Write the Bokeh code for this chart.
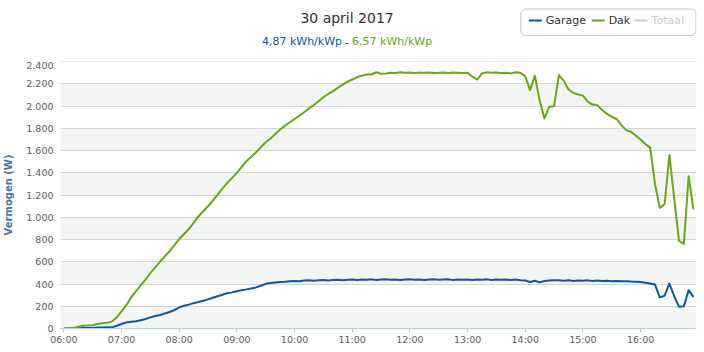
import pandas as pd
from bokeh.plotting import figure
from bokeh.layouts import column
from bokeh.models import (FixedTicker, DatetimeTickFormatter, Range1d, BoxAnnotation, Quad)
from bokeh.core.properties import value
from bokeh.embed import file_html
from bokeh.resources import INLINE

# ---------------- data (5-minute values, 06:00 .. 16:55) ----------------
day = "2017-04-30"
start_time = "06:00"

dak = [
    0, 2, 5, 15, 25, 27, 30, 40, 47, 52, 62, 100,
    155, 210, 280, 335, 390, 440, 498, 550, 600, 650, 695, 750,
    805, 850, 895, 950, 1008, 1055, 1100, 1150, 1205, 1260, 1310, 1355,
    1400, 1455, 1505, 1545, 1585, 1630, 1675, 1710, 1750, 1790, 1825, 1855,
    1885, 1915, 1945, 1980, 2010, 2045, 2080, 2110, 2135, 2165, 2195, 2220,
    2240, 2260, 2275, 2285, 2285, 2305, 2292, 2295, 2300, 2298, 2305, 2300,
    2303, 2298, 2302, 2300, 2304, 2298, 2300, 2303, 2298, 2302, 2300, 2298,
    2300, 2265, 2240, 2295, 2305, 2300, 2303, 2298, 2300, 2295, 2305, 2300,
    2270, 2145, 2275, 2050, 1890, 1995, 2000, 2280, 2230, 2150, 2120, 2105,
    2095, 2040, 2015, 2010, 1965, 1930, 1905, 1885, 1830, 1785, 1770, 1735,
    1700, 1660, 1625, 1300, 1085, 1120, 1560, 1170, 790, 760, 1370, 1070,
]

garage = [
    0, 0, 2, 3, 5, 5, 5, 8, 10, 12, 10, 25,
    40, 55, 60, 65, 75, 85, 100, 112, 122, 135, 148, 165,
    190, 205, 215, 228, 238, 250, 262, 277, 290, 303, 318, 325,
    335, 345, 352, 360, 370, 385, 402, 410, 414, 418, 420, 425,
    428, 425, 432, 435, 430, 435, 437, 432, 436, 438, 434, 438,
    440, 436, 440, 438, 442, 437, 440, 443, 438, 441, 437, 440,
    442, 438, 441, 437, 440, 443, 438, 440, 442, 437, 441, 438,
    440, 436, 441, 438, 442, 437, 440, 438, 441, 436, 440, 435,
    432, 418, 430, 415, 428, 432, 435, 433, 430, 434, 428, 432,
    430, 433, 428, 431, 427, 429, 425, 428, 424, 426, 422, 420,
    418, 412, 405, 395, 280, 295, 405, 290, 195, 200, 345, 285,
]

x_tick_hours = ["06:00", "07:00", "08:00", "09:00", "10:00", "11:00",
                "12:00", "13:00", "14:00", "15:00", "16:00"]
y_ticks = [0, 200, 400, 600, 800, 1000, 1200, 1400, 1600, 1800, 2000, 2200, 2400]
y_tick_labels = ["0", "200", "400", "600", "800", "1.000", "1.200", "1.400",
                 "1.600", "1.800", "2.000", "2.200", "2.400"]

series_names = ["Garage", "Dak", "Totaal"]
series_active = [True, True, False]
title_text = "30 april 2017"
sub_garage = "4,87 kWh/kWp"
sub_dak = "6,57 kWh/kWp"
y_title = "Vermogen (W)"

# ---------------- styling ----------------
BLUE = "#0f589f"
GREEN = "#6aa817"
GREY = "#cccccc"
FONT = "DejaVu Sans"
HEAD_H = 61
W = 704
LEFT, RIGHT = 59, 8

# ---------------- header (title, subtitle, legend) ----------------
# header frame is aligned with the main frame; x values are page pixels,
# y values are pixels measured up from the header's bottom edge
head = figure(width=W, height=HEAD_H, x_range=Range1d(LEFT, W - RIGHT),
              y_range=Range1d(0, HEAD_H),
              output_backend="svg", toolbar_location=None,
              x_axis_location=None, y_axis_location=None,
              min_border_left=LEFT, min_border_right=RIGHT,
              min_border_top=0, min_border_bottom=0)
head.outline_line_color = None
head.xgrid.visible = False
head.ygrid.visible = False
head.background_fill_color = "white"
head.border_fill_color = "white"

def ty(y_page):
    return HEAD_H - y_page

head.text(x=[346], y=[ty(17)], text=[title_text], text_align="center",
          text_baseline="middle", text_font=value(FONT), text_font_size="14px",
          text_color="#333333")
head.text(x=[341], y=[ty(41)], text=[sub_garage], text_align="right",
          text_baseline="middle", text_font=value(FONT), text_font_size="11px",
          text_color=BLUE)
head.text(x=[346], y=[ty(41)], text=["-"], text_align="center",
          text_baseline="middle", text_font=value(FONT), text_font_size="11px",
          text_color="#555555")
head.text(x=[351], y=[ty(41)], text=[sub_dak], text_align="left",
          text_baseline="middle", text_font=value(FONT), text_font_size="11px",
          text_color=GREEN)

# legend box + items
box = head.quad(left=[520], right=[695.5], top=[ty(8.5)], bottom=[ty(35)],
                fill_color="white", line_color="#c8c8c8", line_width=1)
if "border_radius" in Quad.properties():
    box.glyph.border_radius = 5

leg_colors = [BLUE if series_active[0] else GREY,
              GREEN if series_active[1] else GREY,
              GREY]
leg_glyph_x = [528, 591, 634]
leg_y = ty(20)
head.segment(x0=leg_glyph_x, y0=[leg_y] * 3, x1=[x + 13 for x in leg_glyph_x],
             y1=[leg_y] * 3, line_color=leg_colors, line_width=2)
head.text(x=[x + 17 for x in leg_glyph_x], y=[leg_y] * 3, text=series_names,
          text_align="left", text_baseline="middle", text_font=value(FONT),
          text_font_size="11px",
          text_color=["#333333" if a else GREY for a in series_active])

# ---------------- main chart ----------------
times = pd.date_range(f"{day} {start_time}", periods=len(dak), freq="5min")
x_ticks_ms = [pd.Timestamp(f"{day} {h}").value // 10**6 for h in x_tick_hours]

p = figure(width=W, height=352 - HEAD_H, x_axis_type="datetime",
           output_backend="svg", toolbar_location=None,
           x_range=Range1d(pd.Timestamp(f"{day} 05:56:30"), pd.Timestamp(f"{day} 16:58:10")),
           y_range=Range1d(0, 2402),
           min_border_left=LEFT, min_border_right=RIGHT, min_border_top=0,
           min_border_bottom=24)
p.outline_line_color = None
p.background_fill_color = "white"
p.border_fill_color = "white"

for i in range(0, len(y_ticks) - 1, 2):
    p.add_layout(BoxAnnotation(bottom=y_ticks[i], top=y_ticks[i + 1],
                               fill_color="#f2f5f4", fill_alpha=1.0,
                               line_color=None, level="image"))

p.xgrid.visible = False
p.ygrid.ticker = FixedTicker(ticks=y_ticks)
p.ygrid.grid_line_color = "#d6d6d6"
p.ygrid.grid_line_width = 1

xa = p.xaxis[0]
xa.ticker = FixedTicker(ticks=x_ticks_ms)
xa.formatter = DatetimeTickFormatter(hours="%H:%M", hourmin="%H:%M", minutes="%H:%M",
                                     days="%H:%M", minsec="%H:%M", seconds="%H:%M")
xa.axis_line_color = "#c0d0e0"
xa.major_tick_line_color = "#c0d0e0"
xa.major_tick_out = 4
xa.major_tick_in = 0
xa.minor_tick_line_color = None
xa.minor_tick_out = 0
xa.minor_tick_in = 0
xa.major_label_standoff = 1
xa.major_label_text_font = FONT
xa.major_label_text_font_size = "9.5px"
xa.major_label_text_color = "#606060"

ya = p.yaxis[0]
ya.ticker = FixedTicker(ticks=y_ticks)
ya.major_label_overrides = {t: l for t, l in zip(y_ticks, y_tick_labels)}
ya.axis_line_color = None
ya.major_tick_line_color = None
ya.minor_tick_line_color = None
ya.major_tick_out = 0
ya.major_tick_in = 0
ya.minor_tick_out = 0
ya.minor_tick_in = 0
ya.major_label_standoff = 7
ya.major_label_text_font = FONT
ya.major_label_text_font_size = "9.5px"
ya.major_label_text_color = "#606060"
ya.axis_label = y_title
ya.axis_label_standoff = 9
ya.axis_label_text_font = FONT
ya.axis_label_text_font_size = "10px"
ya.axis_label_text_font_style = "bold"
ya.axis_label_text_color = "#4d759e"

p.line(times, garage, line_color=BLUE, line_width=2, line_join="round")
p.line(times, dak, line_color=GREEN, line_width=2, line_join="round")

layout = column(head, p, spacing=0)
open("out.html", "w").write(file_html(layout, INLINE))
